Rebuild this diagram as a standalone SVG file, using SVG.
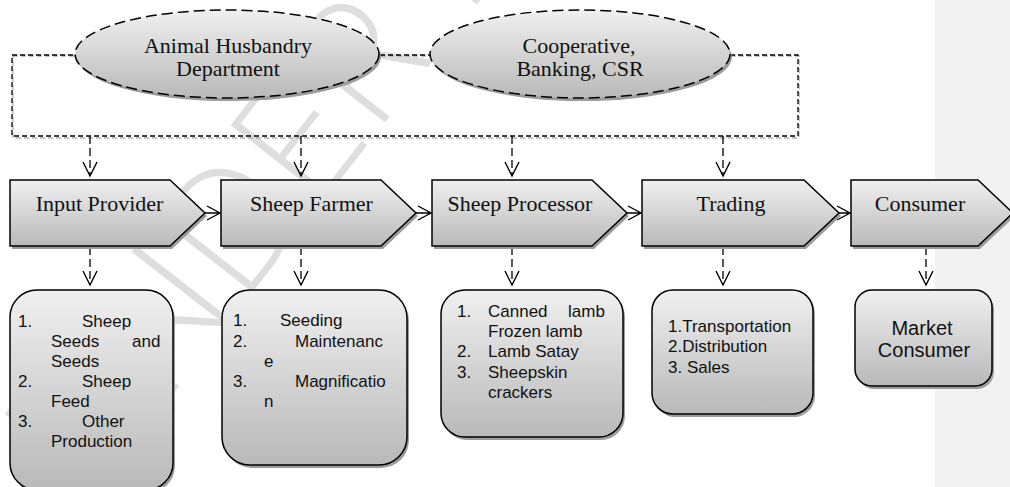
<svg xmlns="http://www.w3.org/2000/svg" width="1010" height="487" viewBox="0 0 1010 487">
<defs>
<linearGradient id="g" x1="0" y1="0" x2="0" y2="1">
<stop offset="0" stop-color="#f0f0f0"/>
<stop offset="1" stop-color="#b9b9b9"/>
</linearGradient>
<style>
.shape{fill:url(#g);stroke:#000;stroke-width:1.5}
.ell{fill:url(#g);stroke:#000;stroke-width:1.5;stroke-dasharray:11 5}
.sh{fill:#9c9c9c;stroke:none}
.serif{font-family:"Liberation Serif","Times New Roman",serif;font-size:22px;fill:#111;text-anchor:middle}
.sans{font-family:"Liberation Sans",Arial,sans-serif;font-size:17px;fill:#111}
.big{font-family:"Liberation Sans",Arial,sans-serif;font-size:20px;fill:#111;text-anchor:middle}
.br{fill:none;stroke:#000;stroke-width:1.3;stroke-dasharray:5 3}
.brs{fill:none;stroke:#b0b0b0;stroke-width:1.3;stroke-dasharray:5 3}
.dl{fill:none;stroke:#000;stroke-width:1.3;stroke-dasharray:8 4}
.hd{fill:none;stroke:#000;stroke-width:1.4}
.wm{font-family:Inter,"Liberation Sans",sans-serif;font-weight:200;font-size:165px;fill:#dedede}
</style>
</defs>
<rect x="0" y="0" width="1010" height="487" fill="#fff"/>
<rect x="935" y="0" width="75" height="487" fill="#f2f2f2"/>
<text class="wm" transform="translate(90,500) rotate(-52)">UNDER PEER REVIEW</text>

<g id="connectors">
<path class="brs" d="M13,56 H76 M381,56 H431 M731,56 H799 V138 H13 V56"/>
<path class="br" d="M12,55 H75 M380,55 H430 M730,55 H798 V136 H12 V55"/>
<path class="dl" d="M90,136 V175 M301,136 V175 M512,136 V175 M723,136 V175"/>
<path class="hd" d="M83,162 L90,176 L97,162 M294,162 L301,176 L308,162 M505,162 L512,176 L519,162 M716,162 L723,176 L730,162"/>
<path class="dl" d="M90,247 V284 M301,247 V284 M512,247 V284 M723,247 V284 M926,247 V284"/>
<path class="hd" d="M83,271 L90,285 L97,271 M294,271 L301,285 L308,271 M505,271 L512,285 L519,271 M716,271 L723,285 L730,271 M919,271 L926,285 L933,271"/>
<path class="hd" d="M205,213 H220 M207,206 L220,213 L207,220 M416,213 H431 M418,206 L431,213 L418,220 M627,213 H641 M628,206 L641,213 L628,220 M839,213 H850 M837,206 L850,213 L837,220"/>
</g>

<g id="n-animal">
<ellipse class="sh" cx="229" cy="57" rx="152" ry="44"/>
<ellipse class="ell" cx="227" cy="54" rx="152" ry="44"/>
<text class="serif" x="228" y="53">Animal Husbandry</text>
<text class="serif" x="228" y="76">Department</text>
</g>
<g id="n-coop">
<ellipse class="sh" cx="582" cy="57" rx="150" ry="44"/>
<ellipse class="ell" cx="580" cy="54" rx="150" ry="44"/>
<text class="serif" x="579" y="53">Cooperative,</text>
<text class="serif" x="580" y="76">Banking, CSR</text>
</g>

<g id="n-input">
<path class="sh" d="M12,183 H172 L207,216 L172,249 H12 Z"/>
<path class="shape" d="M10,180 H170 L205,213 L170,246 H10 Z"/>
<text class="serif" x="99.5" y="211">Input Provider</text>
</g>
<g id="n-farmer">
<path class="sh" d="M223,183 H383 L418,216 L383,249 H223 Z"/>
<path class="shape" d="M221,180 H381 L416,213 L381,246 H221 Z"/>
<text class="serif" x="311.5" y="211">Sheep Farmer</text>
</g>
<g id="n-processor">
<path class="sh" d="M434,183 H594 L629,216 L594,249 H434 Z"/>
<path class="shape" d="M432,180 H592 L627,213 L592,246 H432 Z"/>
<text class="serif" x="520" y="211">Sheep Processor</text>
</g>
<g id="n-trading">
<path class="sh" d="M644,183 H806 L841,216 L806,249 H644 Z"/>
<path class="shape" d="M642,180 H804 L839,213 L804,246 H642 Z"/>
<text class="serif" x="731" y="211">Trading</text>
</g>
<g id="n-consumer">
<path class="sh" d="M853,183 H980 L1015,216 L980,249 H853 Z"/>
<path class="shape" d="M851,180 H978 L1013,213 L978,246 H851 Z"/>
<text class="serif" x="920" y="211">Consumer</text>
</g>

<g id="b-input">
<rect class="sh" x="12" y="293" width="163" height="200" rx="27"/>
<rect class="shape" x="10" y="290" width="163" height="200" rx="27"/>
<text class="sans" x="18" y="327">1.</text><text class="sans" x="82" y="327">Sheep</text>
<text class="sans" x="51" y="347">Seeds</text><text class="sans" x="132" y="347">and</text>
<text class="sans" x="51" y="367">Seeds</text>
<text class="sans" x="18" y="387">2.</text><text class="sans" x="82" y="387">Sheep</text>
<text class="sans" x="51" y="407">Feed</text>
<text class="sans" x="18" y="427">3.</text><text class="sans" x="82" y="427">Other</text>
<text class="sans" x="51" y="447">Production</text>
</g>
<g id="b-farmer">
<rect class="sh" x="224" y="293" width="185" height="175" rx="28"/>
<rect class="shape" x="222" y="290" width="185" height="175" rx="28"/>
<text class="sans" x="233" y="326">1.</text><text class="sans" x="280" y="326">Seeding</text>
<text class="sans" x="233" y="347">2.</text><text class="sans" x="295" y="347">Maintenanc</text>
<text class="sans" x="264" y="367">e</text>
<text class="sans" x="233" y="387">3.</text><text class="sans" x="295" y="387">Magnificatio</text>
<text class="sans" x="264" y="407">n</text>
</g>
<g id="b-processor">
<rect class="sh" x="443" y="293" width="182" height="147" rx="24"/>
<rect class="shape" x="441" y="290" width="182" height="147" rx="24"/>
<text class="sans" x="457" y="317">1.</text><text class="sans" x="488" y="317">Canned</text><text class="sans" x="568" y="317">lamb</text>
<text class="sans" x="488" y="337">Frozen lamb</text>
<text class="sans" x="457" y="357">2.</text><text class="sans" x="488" y="357">Lamb Satay</text>
<text class="sans" x="457" y="378">3.</text><text class="sans" x="488" y="378">Sheepskin</text>
<text class="sans" x="488" y="398">crackers</text>
</g>
<g id="b-trading">
<rect class="sh" x="654" y="293" width="161" height="124" rx="21"/>
<rect class="shape" x="652" y="290" width="161" height="124" rx="21"/>
<text class="sans" x="668" y="332">1.Transportation</text>
<text class="sans" x="668" y="352">2.Distribution</text>
<text class="sans" x="668" y="373">3. Sales</text>
</g>
<g id="b-consumer">
<rect class="sh" x="857" y="293" width="137" height="96" rx="17"/>
<rect class="shape" x="855" y="290" width="137" height="96" rx="17"/>
<text class="big" x="922" y="335">Market</text>
<text class="big" x="924" y="357">Consumer</text>
</g>
</svg>
